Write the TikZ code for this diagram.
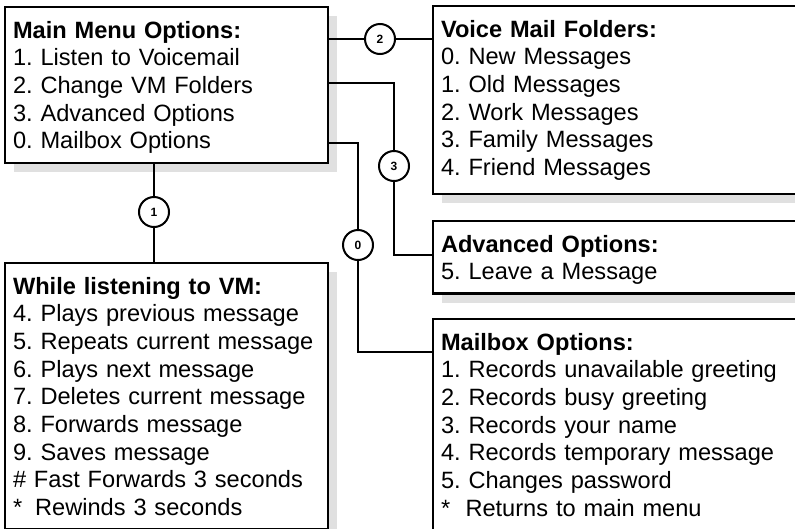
\documentclass[tikz,border=0pt]{standalone}
\usepackage{fontspec}
\setmainfont{Liberation Sans}
\usetikzlibrary{shadows}
\frenchspacing
\hyphenpenalty=10000
\newcommand{\menutitle}[1]{\rule{0pt}{22pt}\textbf{#1}}
\newcommand{\menuend}[1][5pt]{\rule[-#1]{0pt}{#1}}

\begin{document}
\begin{tikzpicture}[x=1pt, y=-1pt,
    menubox/.style={draw, line width=2.5pt, anchor=north west, align=left, fill=white,
      outer sep=0pt, inner xsep=8pt, inner ysep=9pt, font=\fontsize{23.6}{27.7}\selectfont,
      drop shadow={shadow xshift=9pt, shadow yshift=-9pt, fill=black!12, opacity=1}},
    keyring/.style={draw, circle, line width=2pt, fill=white, minimum size=30pt,
      inner sep=0pt, font=\fontsize{12}{14}\selectfont\bfseries},
    link/.style={line width=2pt}]
  \useasboundingbox (0,0) rectangle (795,528);
  \clip (0,0) rectangle (795,528);

  \node[menubox, text width=307pt] (main) at (5,7) {\menutitle{Main Menu Options:}\\
    1. Listen to Voicemail\\ 2. Change VM Folders\\ 3. Advanced Options\\
    0. Mailbox Options\menuend};
  \node[menubox, text width=364pt] (folders) at (433,6) {\menutitle{Voice Mail Folders:}\\
    0. New Messages\\ 1. Old Messages\\ 2. Work Messages\\ 3. Family Messages\\
    4. Friend Messages\menuend[9.5pt]};
  \node[menubox, text width=364pt] (advanced) at (433,221) {\menutitle{Advanced Options:}\\
    5. Leave a Message\menuend};
  \node[menubox, text width=364pt] (mailbox) at (433,319) {\menutitle{Mailbox Options:}\\
    1. Records unavailable greeting\\ 2. Records busy greeting\\ 3. Records your name\\
    4. Records temporary message\\ 5. Changes password\\
    {*}\hspace{0.65em}Returns to main menu\menuend};
  \node[menubox, text width=307pt] (listening) at (5,263) {\menutitle{While listening to VM:}\\
    4. Plays previous message\\ 5. Repeats current message\\ 6. Plays next message\\
    7. Deletes current message\\ 8. Forwards message\\ 9. Saves message\\
    \# Fast Forwards 3 seconds\\ {*}\hspace{0.55em}Rewinds 3 seconds\menuend};

  \node[keyring] (k2) at (380,39) {2};
  \node[keyring] (k3) at (394,166) {3};
  \node[keyring] (k0) at (358,245) {0};
  \node[keyring] (k1) at (154,212) {1};

  \coordinate (b3) at (394,83);
  \coordinate (e3) at (394,255);
  \coordinate (b0) at (358,143);
  \coordinate (e0) at (358,352);

  \draw[link] (main.east |- k2) -- (k2) -- (folders.west |- k2);
  \draw[link] (main.east |- b3) -- (b3) -- (k3) -- (e3) -- (e3 -| advanced.west);
  \draw[link] (main.east |- b0) -- (b0) -- (k0) -- (e0) -- (e0 -| mailbox.west);
  \draw[link] (k1 |- main.south) -- (k1) -- (k1 |- listening.north);
\end{tikzpicture}
\end{document}
